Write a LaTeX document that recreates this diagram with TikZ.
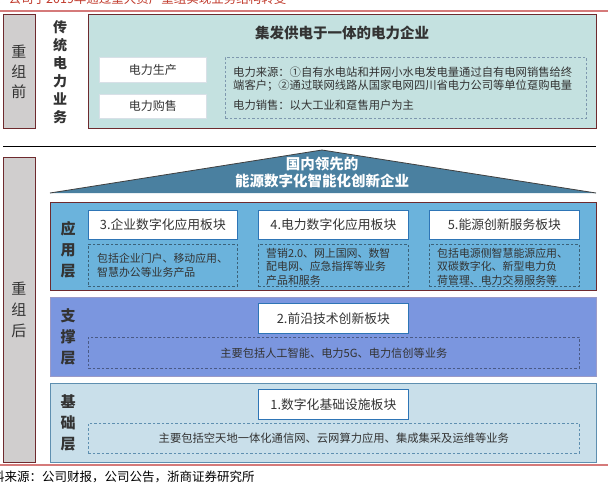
\documentclass[tikz,border=0pt]{standalone}
\usepackage{fontspec}
\setmainfont{Noto Sans CJK SC}
\definecolor{redline}{HTML}{D57A7A}
\definecolor{titlered}{HTML}{C0392B}
\definecolor{greyfill}{HTML}{D0CECE}
\definecolor{darkred}{HTML}{6E2A2E}
\definecolor{tealfill}{HTML}{C4E1E0}
\definecolor{roof}{HTML}{4A80A0}
\definecolor{appfill}{HTML}{6BB3DC}
\definecolor{supfill}{HTML}{7B96DF}
\definecolor{supedge}{HTML}{9A9AC8}
\definecolor{basefill}{HTML}{C9DFEA}
\definecolor{baseedge}{HTML}{5E8FB0}
\definecolor{boxblue}{HTML}{2E75B6}
\definecolor{dashcol}{HTML}{7E98AE}
\definecolor{txt}{HTML}{333333}
\tikzset{
  box/.style={draw, anchor=north west, inner sep=0pt},
  whitebox/.style={box, fill=white, draw=boxblue, line width=0.8pt},
  dashbox/.style={box, draw=dashcol, dashed, line width=0.7pt, dash pattern=on 2.5pt off 2pt},
  vlabel/.style={font=\bfseries\fontsize{15}{21}\selectfont, align=center, text=txt},
  body/.style={font=\fontsize{10.9}{13.5}\selectfont, align=left, text=txt, anchor=west, inner sep=0pt},
  head/.style={font=\fontsize{12.8}{14}\selectfont, text=txt}
}
\begin{document}
\begin{tikzpicture}[x=1pt,y=-1pt]
\useasboundingbox (0,0) rectangle (608,488);
% title (cut off at the top, as in the reference)
\node[anchor=base west, inner sep=0pt, text=titlered, font=\fontsize{12.5}{14}\selectfont] (title) at (-4,3.5) {：公司于2019年通过重大资产重组实现业务结构转变};
\draw[redline, line width=1.3pt] (0,11) coordinate (rl1) -- (608,11) coordinate (rl2);
% ---- before ----
\node[box, fill=greyfill, draw=darkred, line width=0.7pt, minimum width=32pt, minimum height=114pt] (before) at (3,14) {};
\node[vlabel, font=\fontsize{15}{20}\selectfont] (beforet) at (19,72) {重\\组\\前};
\node[vlabel, font=\bfseries\fontsize{14}{18}\selectfont] (trad) at (60,72) {传\\统\\电\\力\\业\\务};
\node[box, fill=tealfill, draw=darkred, line width=1pt, minimum width=508pt, minimum height=114pt] (teal) at (88,14) {};
\node[font=\bfseries\fontsize{14.5}{16}\selectfont, text=txt] (tealt) at (342,33) {集发供电于一体的电力企业};
\node[box, fill=white, draw=white!70!dashcol, line width=0.8pt, minimum width=107pt, minimum height=25pt] (prod) at (99,57) {};
\node[head, font=\fontsize{12}{14}\selectfont] at (prod.center) {电力生产};
\node[box, fill=white, draw=white!70!dashcol, line width=0.8pt, minimum width=107pt, minimum height=24pt] (sale) at (99,94) {};
\node[head, font=\fontsize{12}{14}\selectfont] at (sale.center) {电力购售};
\node[dashbox, minimum width=361pt, minimum height=61pt] (src) at (225,57) {};
\node[body, font=\fontsize{11.3}{13}\selectfont] (l1) at (233,72) {电力来源：①自有水电站和并网小水电发电量通过自有电网销售给终};
\node[body, font=\fontsize{11.3}{13}\selectfont] (l2) at (233,86) {端客户；②通过联网线路从国家电网四川省电力公司等单位趸购电量};
\node[body, font=\fontsize{11.3}{13}\selectfont] (l3) at (233,105) {电力销售：以大工业和趸售用户为主};
% separator
\draw[black, line width=1pt] (3,146) coordinate (s1) -- (596,146) coordinate (s2);
% ---- after ----
\node[box, fill=greyfill, draw=darkred, line width=0.7pt, minimum width=32pt, minimum height=305pt] (after) at (3,157) {};
\node[vlabel, font=\fontsize{15}{21}\selectfont] (aftert) at (19,310) {重\\组\\后};
% roof
\coordinate (rA) at (50,193);
\coordinate (rB) at (322,150);
\coordinate (rC) at (596,193);
\fill[roof] (rA) -- (rB) -- (rC) -- cycle;
\draw[black!75, line width=0.8pt] (rA) -- (rB) -- (rC);
\node[font=\bfseries\fontsize{14.5}{17}\selectfont, text=white, align=center] (rooft) at (322,172) {国内领先的\\能源数字化智能化创新企业};
% application layer
\node[box, fill=appfill, draw=darkred, line width=1pt, minimum width=546pt, minimum height=88pt] (app) at (50,202) {};
\node[vlabel] (appt) at (68,250) {应\\用\\层};
\node[whitebox, minimum width=149pt, minimum height=29pt] (b3) at (88,210) {};
\node[head] at (b3.center) {3.企业数字化应用板块};
\node[whitebox, minimum width=150pt, minimum height=29pt] (b4) at (258,210) {};
\node[head] at (b4.center) {4.电力数字化应用板块};
\node[whitebox, minimum width=150pt, minimum height=29pt] (b5) at (429,210) {};
\node[head] at (b5.center) {5.能源创新服务板块};
\node[dashbox, draw=black!45!appfill, minimum width=149pt, minimum height=42pt] (d3) at (88,244) {};
\node[dashbox, draw=black!45!appfill, minimum width=150pt, minimum height=42pt] (d4) at (258,244) {};
\node[dashbox, draw=black!45!appfill, minimum width=150pt, minimum height=42pt] (d5) at (429,244) {};
\node[body] (t3) at (97,265.5) {包括企业门户、移动应用、\\智慧办公等业务产品};
\node[body] (t4) at (266,266.5) {营销2.0、网上国网、数智\\配电网、应急指挥等业务\\产品和服务};
\node[body] (t5) at (437,266.5) {包括电源侧智慧能源应用、\\双碳数字化、新型电力负\\荷管理、电力交易服务等};
% support layer
\node[box, fill=supfill, draw=supedge, line width=1pt, minimum width=546pt, minimum height=79pt] (sup) at (50,297) {};
\node[vlabel] (supt) at (68,337) {支\\撑\\层};
\node[whitebox, minimum width=150pt, minimum height=30pt] (b2) at (258,303) {};
\node[head] at (b2.center) {2.前沿技术创新板块};
\node[dashbox, draw=black!40!supfill, minimum width=491pt, minimum height=31pt] (d2) at (88,337) {};
\node[body, anchor=center, font=\fontsize{11.2}{13}\selectfont] (t2) at (d2.center) {主要包括人工智能、电力5G、电力信创等业务};
% base layer
\node[box, fill=basefill, draw=baseedge, line width=1pt, minimum width=546pt, minimum height=79pt] (base) at (50,383) {};
\node[vlabel] (baset) at (68,423) {基\\础\\层};
\node[whitebox, minimum width=150pt, minimum height=30pt] (b1) at (258,389) {};
\node[head] at (b1.center) {1.数字化基础设施板块};
\node[dashbox, draw=baseedge, minimum width=491pt, minimum height=30pt] (d1) at (88,423) {};
\node[body, anchor=center, font=\fontsize{11.3}{13}\selectfont] (t1) at (d1.center) {主要包括空天地一体化通信网、云网算力应用、集成集采及运维等业务};
% bottom line and source
\draw[redline, line width=1.3pt] (0,465) coordinate (rl3) -- (608,465) coordinate (rl4);
\node[anchor=west, inner sep=0pt, text=black, font=\fontsize{12.5}{14}\selectfont] (srcnote) at (-8,477) {料来源：公司财报，公司公告，浙商证券研究所};
\end{tikzpicture}
\end{document}
